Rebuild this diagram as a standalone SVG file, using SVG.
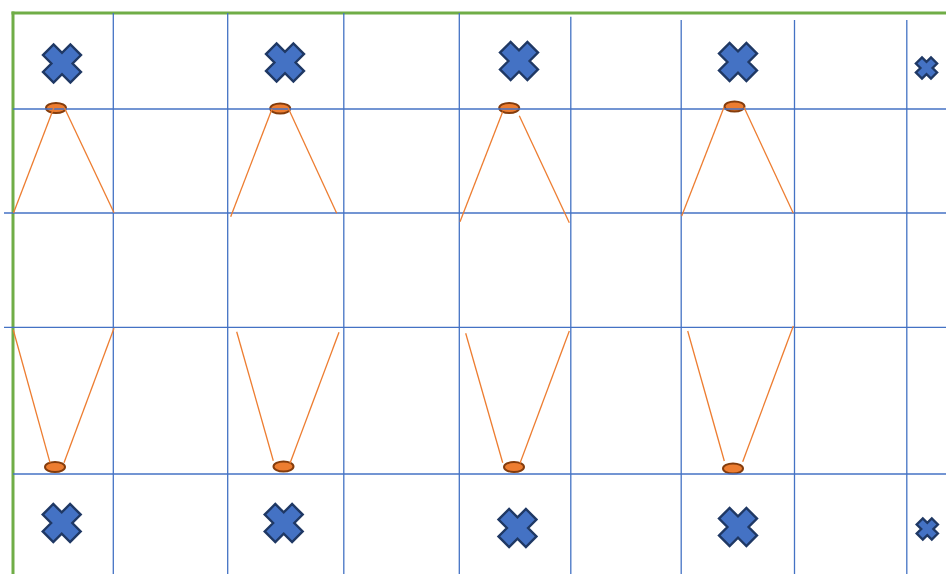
<svg xmlns="http://www.w3.org/2000/svg" width="946" height="574" viewBox="0 0 946 574">
  <style>
    .grid line { stroke: #4472c4; stroke-width: 1.3; }
    .frame line { stroke: #70ad47; stroke-width: 3; }
    .cross { fill: #4472c4; stroke: #1f3864; stroke-width: 2.4; stroke-linejoin: miter; }
    .dot { fill: #ed7d31; stroke: #843c0c; stroke-width: 2; }
    .conn line { stroke: #ed7d31; stroke-width: 1.3; }
  </style>
  <defs>
    <path id="xbig" class="cross" d="M19,8.4 L8.4,19 L0,10.6 L-8.4,19 L-19,8.4 L-10.6,0 L-19,-8.4 L-8.4,-19 L0,-10.6 L8.4,-19 L19,-8.4 L10.6,0 Z"/>
    <path id="xsmall" class="cross" d="M10.6,4.5 L4.5,10.6 L0,6.1 L-4.5,10.6 L-10.6,4.5 L-6.1,0 L-10.6,-4.5 L-4.5,-10.6 L0,-6.1 L4.5,-10.6 L10.6,-4.5 L6.1,0 Z"/>
  </defs>
  <rect width="946" height="574" fill="#ffffff"/>

  <g id="frame" class="frame">
    <line x1="11.5" y1="13" x2="946" y2="13"/>
    <line x1="13" y1="11.5" x2="13" y2="574"/>
  </g>

  <g id="top-crosses">
    <use id="x-top-1" href="#xbig" x="62" y="63.5"/>
    <use id="x-top-2" href="#xbig" x="285" y="62.5"/>
    <use id="x-top-3" href="#xbig" x="519" y="61"/>
    <use id="x-top-4" href="#xbig" x="738" y="62"/>
    <use id="x-top-5" href="#xsmall" x="926.5" y="68"/>
  </g>
  <g id="bottom-crosses">
    <use id="x-bot-1" href="#xbig" x="61.7" y="523"/>
    <use id="x-bot-2" href="#xbig" x="283.7" y="523"/>
    <use id="x-bot-3" href="#xbig" x="517.5" y="528"/>
    <use id="x-bot-4" href="#xbig" x="738" y="527"/>
    <use id="x-bot-5" href="#xsmall" x="927.3" y="529"/>
  </g>

  <g id="dot-top-1"><ellipse class="dot" cx="56" cy="108" rx="10" ry="5"/></g>
  <g id="dot-top-2"><ellipse class="dot" cx="280.2" cy="108.5" rx="10" ry="5"/></g>
  <g id="dot-top-3"><ellipse class="dot" cx="509.2" cy="108" rx="10" ry="5"/></g>
  <g id="dot-top-4"><ellipse class="dot" cx="734.5" cy="106.5" rx="10" ry="5"/></g>
  <g id="dot-bot-1"><ellipse class="dot" cx="55" cy="467" rx="10" ry="5"/></g>
  <g id="dot-bot-2"><ellipse class="dot" cx="283.5" cy="466.5" rx="10" ry="5"/></g>
  <g id="dot-bot-3"><ellipse class="dot" cx="514" cy="467" rx="10" ry="5"/></g>
  <g id="dot-bot-4"><ellipse class="dot" cx="733" cy="468.5" rx="10" ry="5"/></g>

  <g id="grid" class="grid">
    <line x1="13" y1="109" x2="946" y2="109"/>
    <line x1="4" y1="213" x2="946" y2="213"/>
    <line x1="4" y1="327.3" x2="946" y2="327.3"/>
    <line x1="13" y1="474" x2="946" y2="474"/>
    <line x1="113.3" y1="13" x2="113.3" y2="574"/>
    <line x1="227.7" y1="13" x2="227.7" y2="574"/>
    <line x1="343.8" y1="13" x2="343.8" y2="574"/>
    <line x1="459.3" y1="13" x2="459.3" y2="574"/>
    <line x1="570.8" y1="16.7" x2="570.8" y2="574"/>
    <line x1="681.2" y1="20" x2="681.2" y2="574"/>
    <line x1="794.5" y1="20" x2="794.5" y2="574"/>
    <line x1="906.8" y1="20" x2="906.8" y2="574"/>
  </g>

  <g id="connectors" class="conn">
    <line x1="54.5" y1="106" x2="13.5" y2="213"/>
    <line x1="64.5" y1="108" x2="114" y2="212.7"/>
    <line x1="272" y1="109" x2="230.7" y2="216.7"/>
    <line x1="288.3" y1="108.3" x2="336.7" y2="213.3"/>
    <line x1="502.7" y1="111.7" x2="460" y2="221.7"/>
    <line x1="519.3" y1="115.7" x2="569.3" y2="222.7"/>
    <line x1="724" y1="107.3" x2="681.7" y2="216"/>
    <line x1="744" y1="107.3" x2="793.3" y2="213.3"/>

    <line x1="13.3" y1="330" x2="50" y2="462.7"/>
    <line x1="114" y1="328.3" x2="64" y2="462.7"/>
    <line x1="236.7" y1="331.7" x2="273.3" y2="460.7"/>
    <line x1="339" y1="332.3" x2="290" y2="463.3"/>
    <line x1="465.7" y1="333.3" x2="502.7" y2="462.7"/>
    <line x1="569.3" y1="331" x2="520" y2="463.3"/>
    <line x1="687.7" y1="331" x2="724.3" y2="461"/>
    <line x1="793.3" y1="326" x2="742.7" y2="461.7"/>
  </g>
</svg>
